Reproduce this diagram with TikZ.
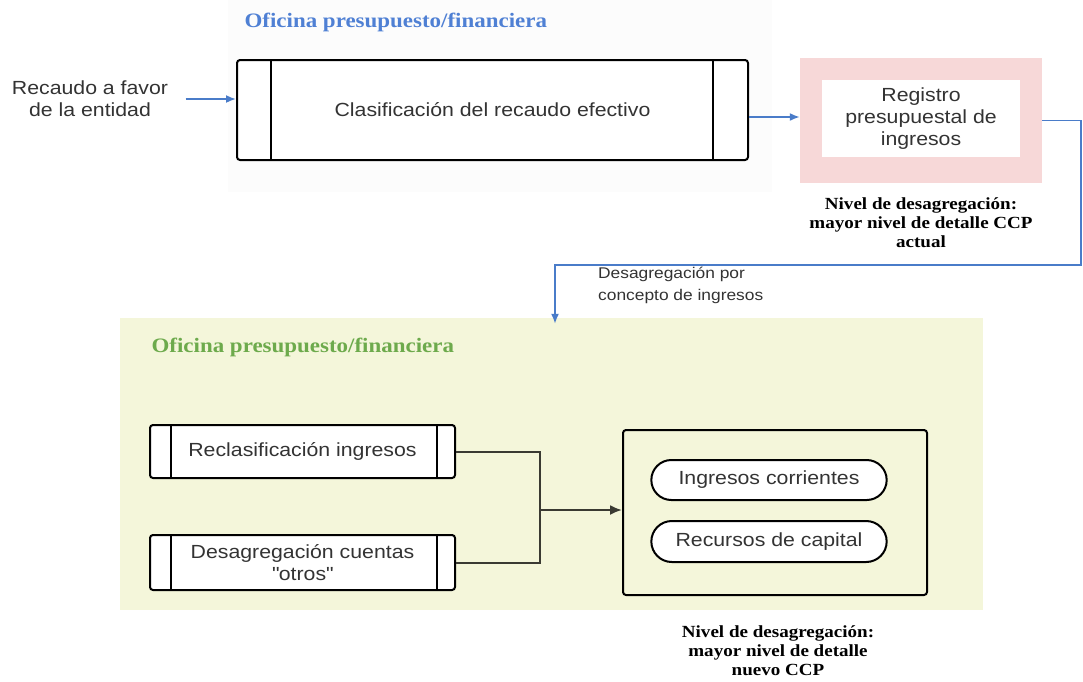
\documentclass[tikz,border=0pt]{standalone}
\usepackage{fontspec}
\setmainfont{Liberation Sans}[FakeStretch=1.12]
\newfontfamily\capfont{Liberation Serif}[FakeStretch=1.12]
\usepackage{tikz}
\usetikzlibrary{arrows.meta,positioning,calc,shapes.misc}
\definecolor{flow}{HTML}{4A7CC9}
\definecolor{ofiblue}{HTML}{4F80D4}
\definecolor{ofigreen}{HTML}{6DAA4C}
\definecolor{pinkbg}{HTML}{F7D8D8}
\definecolor{greenbg}{HTML}{F4F6DA}
\definecolor{topbg}{HTML}{FCFCFC}
\definecolor{joint}{HTML}{3A3A32}
\definecolor{ink}{HTML}{333333}
\tikzset{
  body/.style={font=\fontsize{19}{22}\selectfont, text=ink},
  capt/.style={font=\capfont\bfseries\fontsize{17}{19}\selectfont, align=center},
  ofititle/.style={font=\capfont\bfseries\fontsize{20.5}{24}\selectfont, anchor=west},
  procbox/.style={draw, line width=2pt, rounded corners=3pt, fill=white, inner sep=0pt, body},
  flowarrow/.style={flow, line width=1.7pt, -{Latex[length=10pt,width=8pt]}},
}
\begin{document}
\begin{tikzpicture}[x=1pt, y=-1pt]
  \useasboundingbox (0,0) rectangle (1083,681);
  \fill[topbg] (228,0) rectangle (772,192);
  \node[ofititle, text=ofiblue] (ofitop) at (241,22) {Oficina presupuesto/financiera};
  % entrada
  \node[body, align=center] (recaudo) at (90,99) {Recaudo a favor\\de la entidad};
  \node[procbox, minimum width=511, minimum height=100] (clas) at (492.5,110) {Clasificación del recaudo efectivo};
  \draw[line width=1.2pt] ([xshift=35]clas.north west) -- ([xshift=35]clas.south west);
  \draw[line width=1.2pt] ([xshift=-36]clas.north east) -- ([xshift=-36]clas.south east);
  \draw[flowarrow] ([xshift=14]recaudo.east) -- (recaudo.east -| clas.west);
  % registro
  \node[fill=pinkbg, minimum width=242, minimum height=125] (regbg) at (921,120.5) {};
  \node[fill=white, minimum width=198, minimum height=77, body, align=center] (registro) at (921,118.5) {Registro\\presupuestal de\\ingresos};
  \draw[flowarrow] ([yshift=-7]clas.east) -- ([yshift=-7]clas.east -| regbg.west);
  \node[capt, below=11pt of regbg] (cap1) {Nivel de desagregación:\\mayor nivel de detalle CCP\\actual};
  % panel inferior
  \node[fill=greenbg, minimum width=863, minimum height=292] (panel) at (551.5,464) {};
  \node[ofititle, text=ofigreen] (ofilow) at (148,347) {Oficina presupuesto/financiera};
  \coordinate (turn) at (1081,265);
  \coordinate (drop) at (555,265);
  \draw[flowarrow] (regbg.east) -| (turn) -- (drop) -- ([yshift=-6]drop |- panel.north);
  \node[font=\fontsize{15.5}{22}\selectfont, text=ink, align=left, anchor=north west, inner sep=2pt] (desag) at (596,265) {Desagregación por\\concepto de ingresos};
  \node[procbox, minimum width=305, minimum height=53] (recl) at (302.5,451.5) {Reclasificación ingresos};
  \node[procbox, minimum width=305, minimum height=55, align=center] (otros) at (302.5,562.5) {Desagregación cuentas\\\textquotedbl otros\textquotedbl};
  \foreach \b in {recl,otros}{
    \draw[line width=1.2pt] ([xshift=22]\b.north west) -- ([xshift=22]\b.south west);
    \draw[line width=1.2pt] ([xshift=-19]\b.north east) -- ([xshift=-19]\b.south east);}
  \node[draw, line width=2pt, rounded corners=3pt, minimum width=304, minimum height=165] (nivel) at (775,512.5) {};
  \node[draw, line width=2pt, rounded rectangle, fill=white, minimum width=242, minimum height=40, body] (corr) at (769,480) {Ingresos corrientes};
  \node[draw, line width=2pt, rounded rectangle, fill=white, minimum width=242, minimum height=41, body] (capital) at (769,541.5) {Recursos de capital};
  \coordinate (join) at (540,510);
  \draw[joint, line width=2pt] (recl.east) -| (join);
  \draw[joint, line width=2pt] (otros.east) -| (join);
  \draw[joint, line width=2pt, -{Latex[length=12pt,width=10pt]}] (join) -- (join -| nivel.west);
  \node[capt] (cap2) at (778,651) {Nivel de desagregación:\\mayor nivel de detalle\\nuevo CCP};
\end{tikzpicture}
\end{document}
